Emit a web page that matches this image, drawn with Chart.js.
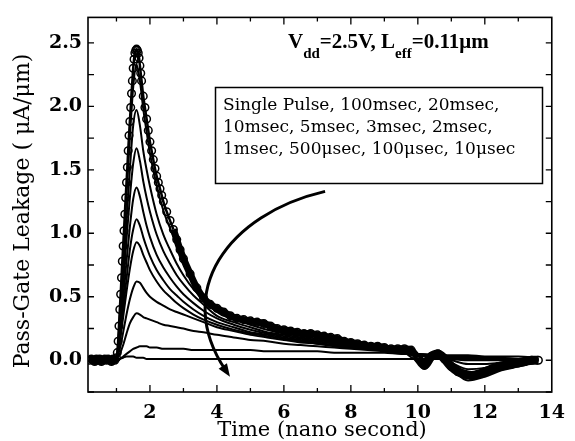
<!DOCTYPE html>
<html>
<head>
<meta charset="utf-8">
<script src="https://cdn.jsdelivr.net/npm/chart.js@4.4.0/dist/chart.umd.min.js"></script>
<style>
  html, body { margin: 0; padding: 0; background: #fff; }
</style>
</head>
<body>
<canvas id="myChart" width="575" height="441"></canvas>
<script>
// time axis for the open-circle curve (single pulse)
const timeCircles = [0.2,0.25,0.3,0.35,0.4,0.45,0.5,0.55,0.6,0.65,0.7,0.75,0.8,0.85,0.9,0.95,1.0,
  1.025,1.05,1.075,1.1,1.125,1.15,1.175,1.2,1.225,1.25,1.275,1.3,1.325,1.35,1.375,1.4,1.425,1.45,1.475,
  1.5,1.525,1.55,1.575,1.6,1.625,1.65,1.675,1.7,1.725,1.75,
  1.8,1.85,1.9,1.95,2.0,2.05,2.1,2.15,2.2,2.25,2.3,2.35,2.4,2.5,2.6,2.7,2.8,2.9,3.0,
  3.2,3.4,3.6,3.8,4.0,4.2,4.4,4.6,4.8,5.0,5.2,5.4,5.6,5.8,6.0,6.2,6.4,6.6,6.8,7.0,
  7.2,7.4,7.6,7.8,8.0,8.2,8.4,8.6,8.8,9.0,9.2,9.4,9.6,9.8,10.0,10.2,10.4,10.6,10.8,11.0,
  11.2,11.4,11.6,11.8,12.0,12.2,12.4,12.6,12.8,13.0,13.2,13.4,13.6];
const singlePulse = [0.00,0.01,0.00,-0.01,0.01,0.00,0.01,-0.01,0.00,0.01,0.00,0.01,0.00,-0.01,0.01,0.00,0.02,
  0.06,0.15,0.27,0.40,0.52,0.65,0.78,0.90,1.02,1.15,1.28,1.40,1.52,1.65,1.77,1.88,1.99,2.10,2.20,
  2.30,2.37,2.42,2.44,2.45,2.44,2.42,2.38,2.32,2.26,2.20,
  2.08,1.99,1.90,1.81,1.72,1.65,1.58,1.51,1.45,1.40,1.35,1.30,1.25,1.17,1.10,1.03,0.95,0.87,0.80,
  0.68,0.57,0.49,0.44,0.41,0.38,0.35,0.33,0.32,0.31,0.30,0.29,0.27,0.25,0.24,0.23,0.22,0.21,0.21,0.20,
  0.19,0.18,0.17,0.15,0.14,0.13,0.12,0.11,0.11,0.10,0.09,0.09,0.09,0.08,0.02,-0.04,0.03,0.05,0.01,-0.05,
  -0.09,-0.11,-0.12,-0.11,-0.09,-0.07,-0.05,-0.04,-0.03,-0.02,-0.01,0.00,0.00];

// time axis for the solid curves
const time = [0.2,0.6,1.0,1.1,1.2,1.3,1.4,1.5,1.6,1.7,1.8,1.9,2.0,2.2,2.4,2.6,2.8,3.0,3.3,3.6,
  4.0,4.5,5.0,5.5,6.0,6.5,7.0,7.5,8.0,8.5,9.0,9.5,10.0,10.5,11.0,11.5,12.0,12.5,13.0,13.6];

const ms100 = [0.01,0.00, 0.02,0.35,0.82,1.30,1.75,2.15,2.33, 2.20,1.98,1.80,1.63, 1.38,1.18,1.04,0.92,0.78,
  0.60,0.50,0.40,0.34,0.30,0.26,0.23, 0.21,0.19,0.17,0.14,0.12,0.10,0.08, 0.00,0.04,-0.07,-0.16,-0.13,-0.08,-0.05,-0.01];
const ms20 = [0.00,0.01, 0.02,0.30,0.70,1.10,1.50,1.85,1.97, 1.85,1.65,1.50,1.37, 1.15,0.99,0.87,0.76,0.67,
  0.56,0.48,0.38,0.32,0.28,0.24,0.21, 0.19,0.17,0.15,0.13,0.11,0.09,0.07, 0.03,0.04,-0.02,-0.07,-0.06,-0.03,-0.01,0.00];
const ms10 = [0.01,0.00, 0.02,0.25,0.60,0.95,1.28,1.55,1.67, 1.57,1.41,1.28,1.17, 0.99,0.86,0.76,0.67,0.60,
  0.51,0.44,0.35,0.30,0.26,0.22,0.20, 0.18,0.16,0.14,0.12,0.10,0.08,0.06, 0.04,0.03,0.00,-0.03,-0.03,-0.02,-0.01,0.00];
const ms5 = [0.00,0.01, 0.02,0.20,0.48,0.78,1.05,1.27,1.36, 1.29,1.17,1.06,0.97, 0.83,0.73,0.65,0.58,0.52,
  0.45,0.39,0.33,0.28,0.24,0.21,0.19, 0.17,0.15,0.13,0.11,0.09,0.08,0.06, 0.04,0.03,0.01,0.00,0.00,0.00,0.00,0.00];
const ms3 = [0.00,0.00, 0.02,0.17,0.40,0.64,0.87,1.03,1.11, 1.06,0.97,0.89,0.82, 0.71,0.63,0.56,0.51,0.46,
  0.40,0.35,0.30,0.26,0.22,0.20,0.18, 0.16,0.14,0.12,0.11,0.09,0.08,0.06, 0.04,0.03,0.02,0.01,0.01,0.00,0.00,0.00];
const ms2 = [0.00,0.00, 0.02,0.14,0.34,0.54,0.72,0.86,0.93, 0.90,0.83,0.77,0.71, 0.62,0.55,0.50,0.45,0.41,
  0.36,0.32,0.28,0.24,0.21,0.19,0.17, 0.15,0.13,0.12,0.10,0.09,0.08,0.06, 0.04,0.03,0.02,0.02,0.01,0.01,0.00,0.00];
const ms1 = [0.00,0.00, 0.02,0.09,0.22,0.36,0.48,0.57,0.62, 0.61,0.57,0.53,0.50, 0.46,0.43,0.40,0.38,0.36,
  0.33,0.30,0.26,0.23,0.20,0.18,0.16, 0.14,0.13,0.11,0.10,0.09,0.08,0.06, 0.05,0.04,0.03,0.02,0.02,0.01,0.01,0.01];
const us500 = [0.00,0.00, 0.01,0.05,0.12,0.21,0.29,0.34,0.37, 0.36,0.34,0.33,0.32, 0.30,0.28,0.27,0.26,0.25,
  0.23,0.22,0.20,0.18,0.16,0.15,0.13, 0.12,0.11,0.10,0.09,0.08,0.07,0.06, 0.05,0.04,0.03,0.03,0.02,0.02,0.01,0.01];
const us100 = [0.00,0.00, 0.00,0.01,0.03,0.05,0.07,0.09,0.10, 0.11,0.11,0.11,0.10, 0.10,0.09,0.09,0.09,0.09,
  0.08,0.08,0.08,0.08,0.08,0.07,0.07, 0.07,0.07,0.06,0.06,0.06,0.06,0.05, 0.05,0.04,0.04,0.04,0.03,0.03,0.03,0.02];
const us10 = [0.00,0.00, 0.00,0.01,0.02,0.03,0.03,0.03,0.02, 0.02,0.02,0.01,0.01, 0.01,0.01,0.01,0.01,0.01,
  0.01,0.01,0.01,0.01,0.01,0.01,0.01, 0.01,0.01,0.01,0.01,0.01,0.01,0.01, 0.01,0.01,0.01,0.01,0.01,0.01,0.01,0.01];

const seriesNames = ['Single Pulse', '100msec', '20msec', '10msec', '5msec', '3msec',
  '2msec', '1msec', '500μsec', '100μsec', '10μsec'];
const lineSeries = [ms100, ms20, ms10, ms5, ms3, ms2, ms1, us500, us100, us10];

const xTicks = [2, 4, 6, 8, 10, 12, 14];
const xMinorTicks = [1, 2, 3, 4, 5, 6, 7, 8, 9, 10, 11, 12, 13];
const yTicks = [0, 0.5, 1.0, 1.5, 2.0, 2.5];
const yTickLabels = ['0.0', '0.5', '1.0', '1.5', '2.0', '2.5'];
const yMinorTicks = [-0.25, 0, 0.25, 0.5, 0.75, 1.0, 1.25, 1.5, 1.75, 2.0, 2.25, 2.5];

const legendLines = ['Single Pulse, 100msec, 20msec,',
  '10msec, 5msec, 3msec, 2msec,',
  '1msec, 500μsec, 100μsec, 10μsec'];

const serif = '"DejaVu Serif", serif';

function pairs(xs, ys) {
  return xs.map((t, i) => ({ x: t, y: ys[i] }));
}

const datasets = [{
  label: seriesNames[0],
  data: pairs(timeCircles, singlePulse),
  showLine: true,
  borderColor: '#000',
  borderWidth: 2,
  // the measured band is heavy where many sweeps overlap
  segment: {
    borderWidth: c => {
      const t = c.p0.parsed.x;
      if (t > 9.9) return 9;
      return (t < 1.0 || t > 2.6) ? 7 : 2.5;
    }
  },
  pointRadius: 3.8,
  pointBorderWidth: 1.5,
  pointBackgroundColor: 'rgba(255,255,255,0)',
  pointBorderColor: '#000',
  cubicInterpolationMode: 'monotone'
}];
lineSeries.forEach((s, i) => {
  datasets.push({
    label: seriesNames[i + 1],
    data: pairs(time, s),
    showLine: true,
    borderColor: '#000',
    borderWidth: 2,
    pointRadius: 0,
    cubicInterpolationMode: 'monotone'
  });
});

const decorations = {
  id: 'decorations',
  afterDatasetsDraw(chart) {
    const { ctx, chartArea: a, scales: { x, y } } = chart;
    ctx.save();
    ctx.strokeStyle = '#000';
    ctx.fillStyle = '#000';

    // frame
    ctx.lineWidth = 1.6;
    ctx.strokeRect(a.left, a.top, a.right - a.left, a.bottom - a.top);

    // inward ticks on all four sides
    ctx.lineWidth = 1.3;
    ctx.beginPath();
    xMinorTicks.forEach(v => {
      const px = x.getPixelForValue(v);
      const len = xTicks.includes(v) ? 7 : 4;
      ctx.moveTo(px, a.bottom); ctx.lineTo(px, a.bottom - len);
      ctx.moveTo(px, a.top); ctx.lineTo(px, a.top + len);
    });
    yMinorTicks.forEach(v => {
      const py = y.getPixelForValue(v);
      ctx.moveTo(a.left, py); ctx.lineTo(a.left + 6, py);
      ctx.moveTo(a.right, py); ctx.lineTo(a.right - 6, py);
    });
    ctx.stroke();

    // curved arrow
    const p0 = [x.getPixelForValue(7.23), y.getPixelForValue(1.33)];
    const c1 = [x.getPixelForValue(4.31), y.getPixelForValue(1.15)];
    const c2 = [x.getPixelForValue(2.70), y.getPixelForValue(0.54)];
    const p3 = [x.getPixelForValue(4.39), y.getPixelForValue(-0.13)];
    const ang = Math.atan2(p3[1] - c2[1], p3[0] - c2[0]);
    const headLen = 13, headW = 5;
    const bx = p3[0] - headLen * Math.cos(ang), by = p3[1] - headLen * Math.sin(ang);
    ctx.lineWidth = 3;
    ctx.beginPath();
    ctx.moveTo(p0[0], p0[1]);
    ctx.bezierCurveTo(c1[0], c1[1], c2[0], c2[1], bx + 4 * Math.cos(ang), by + 4 * Math.sin(ang));
    ctx.stroke();
    ctx.beginPath();
    ctx.moveTo(p3[0], p3[1]);
    ctx.lineTo(bx + headW * Math.sin(ang), by - headW * Math.cos(ang));
    ctx.lineTo(bx - headW * Math.sin(ang), by + headW * Math.cos(ang));
    ctx.closePath();
    ctx.fill();

    // V_dd / L_eff note
    ctx.textBaseline = 'alphabetic';
    ctx.textAlign = 'left';
    let cx = 288;
    const base = 48;
    const noteFont = '"Liberation Serif", serif';
    const parts = [['V', 21, 0], ['dd', 15, 10], ['=2.5V, L', 21, 0], ['eff', 15, 10], ['=0.11μm', 21, 0]];
    parts.forEach(([txt, size, dy]) => {
      ctx.font = 'bold ' + size + 'px ' + noteFont;
      ctx.fillText(txt, cx, base + dy);
      cx += ctx.measureText(txt).width;
    });

    // legend box
    ctx.fillStyle = '#fff';
    ctx.fillRect(215.5, 87.5, 327, 96);
    ctx.lineWidth = 1.5;
    ctx.strokeRect(215.5, 87.5, 327, 96);
    ctx.fillStyle = '#000';
    ctx.font = '17px ' + serif;
    ctx.textBaseline = 'middle';
    legendLines.forEach((ln, i) => ctx.fillText(ln, 223, 106 + i * 22));

    // axis titles
    ctx.font = '21px ' + serif;
    ctx.textAlign = 'center';
    ctx.fillText('Time (nano second)', 322, 431);
    ctx.font = '22px ' + serif;
    ctx.translate(23, 211);
    ctx.rotate(-Math.PI / 2);
    ctx.fillText('Pass-Gate Leakage ( μA/μm)', 0, 0);
    ctx.restore();
  }
};

new Chart(document.getElementById('myChart'), {
  type: 'scatter',
  data: { datasets: datasets },
  options: {
    responsive: false,
    animation: false,
    layout: { padding: { top: 10, right: 16, left: 0, bottom: 0 } },
    plugins: { legend: { display: false }, tooltip: { enabled: false } },
    scales: {
      x: {
        type: 'linear',
        min: 0.15,
        max: 14,
        grid: { display: false, drawTicks: false },
        border: { display: false },
        afterFit(scale) { scale.height = 49; },
        afterBuildTicks(scale) { scale.ticks = xTicks.map(v => ({ value: v })); },
        ticks: {
          padding: 10,
          color: '#000',
          font: { family: serif, size: 19, weight: 'bold' },
          maxRotation: 0,
          callback: v => String(v)
        }
      },
      y: {
        type: 'linear',
        min: -0.25,
        max: 2.7,
        grid: { display: false, drawTicks: false },
        border: { display: false },
        afterFit(scale) { scale.width = 88; },
        afterBuildTicks(scale) { scale.ticks = yTicks.map(v => ({ value: v })); },
        ticks: {
          padding: 6,
          color: '#000',
          font: { family: serif, size: 19, weight: 'bold' },
          callback: v => yTickLabels[yTicks.indexOf(v)]
        }
      }
    }
  },
  plugins: [decorations]
});
</script>
</body>
</html>
